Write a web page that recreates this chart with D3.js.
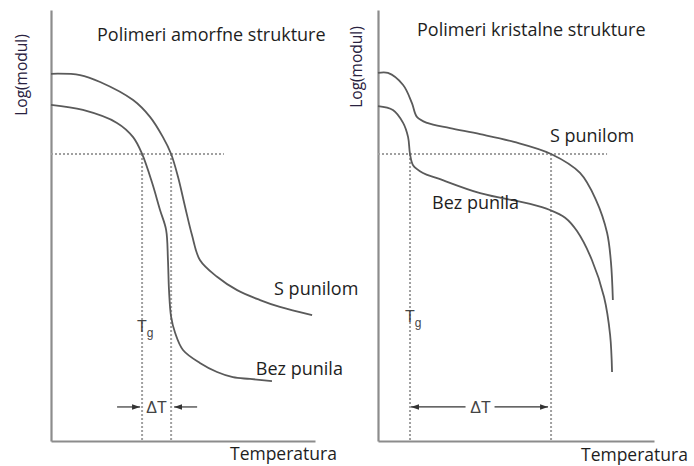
<!DOCTYPE html>
<html><head><meta charset="utf-8">
<script src="https://cdn.jsdelivr.net/npm/d3@7"></script>
<style>
body{margin:0;background:#fff;}
</style></head>
<body><svg id="c" width="694" height="466" font-family="'Open Sans','Noto Sans',sans-serif"></svg>
<script>
// Arbitrary units: temperature 0..100, log(modulus) 0..100
const panelTitles = ["Polimeri amorfne strukture", "Polimeri kristalne strukture"];
const yLabel = "Log(modul)";
const xLabel = "Temperatura";
const seriesNames = ["S punilom", "Bez punila"];

// Amorphous polymers
const amorfSPunilom = [[0,85.2],[11,84.9],[18.6,83.3],[31.1,79.1],[37.5,75.2],[42.4,70.5],[45.5,66.6],[48.1,61.3],[50.8,54.3],[53.4,47.8],[56.4,42.0],[62.9,38.1],[70.5,35.0],[79.2,32.7],[86.7,31.1],[98.9,29.2]];
const amorfBezPunila = [[0,78.0],[12.1,76.8],[25.0,73.8],[31.1,70.5],[34.5,66.6],[38.3,59.9],[41.3,53.6],[43.6,49.0],[44.3,42.0],[44.7,35.0],[45.5,28.8],[47.0,25.1],[50.0,21.1],[56.4,18.1],[62.9,16.0],[68.9,14.8],[75.4,14.4],[83.7,13.9]];
// Crystalline polymers
const kristSPunilom = [[0,85.4],[3.6,85.4],[9.1,82.6],[12.3,78.4],[14.1,75.2],[17.8,73.8],[26.1,72.6],[37.0,71.2],[49.3,69.4],[62.7,66.6],[73.2,62.2],[79.0,55.9],[83.0,48.3],[84.4,41.5],[85.1,32.7]];
const kristBezPunila = [[0,77.7],[5.4,76.8],[9.1,73.8],[10.9,70.5],[11.6,66.6],[12.7,64.0],[16.3,62.2],[21.4,61.0],[37.0,57.5],[55.1,55.0],[62.3,53.6],[67.8,51.8],[72.1,48.7],[77.5,42.0],[81.9,33.4],[84.1,24.6],[84.8,16.0]];

// reference lines: modulus level, end of horizontal line, the two temperatures, ΔT arrow height
const amorfRef = {level:66.6, hEnd:65.5, t1:34.5, t2:45.5, arrowY:7.9};
const kristRef = {level:66.6, hEnd:83.0, t1:11.6, t2:62.7, arrowY:7.9};

const svg = d3.select("#c");
const defs = svg.append("defs");
defs.append("marker").attr("id","ah").attr("viewBox","0 0 10 10").attr("refX",10).attr("refY",5)
  .attr("markerWidth",8).attr("markerHeight",8).attr("markerUnits","userSpaceOnUse").attr("orient","auto")
  .append("path").attr("d","M0,1.5L10,5L0,8.5Z").attr("fill","#333");

const panels = [
  {x0:51, x1:315, s:amorfSPunilom, b:amorfBezPunila, ref:amorfRef, title:panelTitles[0], titleX:97, titleY:41,
   yLabX:27, yLabC:75, sLab:[84.5,33.9], bLab:[77.6,15.4], tempX:230, tempY:460, tg:[32.6,25.2], dT:"narrow"},
  {x0:378, x1:654, s:kristSPunilom, b:kristBezPunila, ref:kristRef, title:panelTitles[1], titleX:417, titleY:36,
   yLabX:362, yLabC:67, sLab:[62.3,69.3], bLab:[19.6,53.8], tempX:581, tempY:461, tg:[9.8,27.6], dT:"wide"}
];

const sans = "'Liberation Sans',Arial,sans-serif";

panels.forEach(p => {
  const x = d3.scaleLinear().domain([0,100]).range([p.x0, p.x1]);
  const y = d3.scaleLinear().domain([0,100]).range([441, 10]);
  const g = svg.append("g");

  // axes (domain lines only)
  const ax = g.append("g").attr("transform",`translate(0,${y(0)})`)
    .call(d3.axisBottom(x).ticks(0).tickSize(0).tickSizeOuter(0));
  const ay = g.append("g").attr("transform",`translate(${x(0)},0)`)
    .call(d3.axisLeft(y).ticks(0).tickSize(0).tickSizeOuter(0));
  [ax, ay].forEach(a => { a.select(".domain").attr("stroke","#8c8c8c").attr("stroke-width",2.2); a.selectAll("text").remove(); });

  const r = p.ref;
  const dot = {stroke:"#a0a0a0", "stroke-width":2, "stroke-dasharray":"2,2"};
  const l1 = g.append("line").attr("x1",x(0)).attr("x2",x(r.hEnd)).attr("y1",y(r.level)).attr("y2",y(r.level));
  const l2 = g.append("line").attr("x1",x(r.t1)).attr("x2",x(r.t1)).attr("y1",y(r.level)).attr("y2",y(0));
  const l3 = g.append("line").attr("x1",x(r.t2)).attr("x2",x(r.t2)).attr("y1",y(r.level)).attr("y2",y(0));
  [l1,l2,l3].forEach(l => Object.entries(dot).forEach(([k,v]) => l.attr(k,v)));

  const line = d3.line().x(d=>x(d[0])).y(d=>y(d[1])).curve(d3.curveCatmullRom.alpha(0.5));
  [p.s, p.b].forEach(d => g.append("path").attr("d", line(d)).attr("fill","none")
    .attr("stroke","#5a5a5a").attr("stroke-width",1.8));

  // titles & labels
  g.append("text").attr("x",p.titleX).attr("y",p.titleY).attr("font-size",18).attr("fill","#1e1e1e").text(p.title);
  g.append("text").attr("transform",`translate(${p.yLabX},${p.yLabC}) rotate(-90)`).attr("text-anchor","middle")
    .attr("font-size",15.5).attr("fill","#2a2240").text(yLabel);
  g.append("text").attr("x",x(p.sLab[0])).attr("y",y(p.sLab[1])).attr("font-size",18).attr("fill","#1e1e1e").text(seriesNames[0]);
  g.append("text").attr("x",x(p.bLab[0])).attr("y",y(p.bLab[1])).attr("font-size",18).attr("fill","#1e1e1e").text(seriesNames[1]);
  g.append("text").attr("x",p.tempX).attr("y",p.tempY).attr("font-size",17.5).attr("fill","#1e1e1e").text(xLabel);

  // Tg label
  const tg = g.append("text").attr("x",x(p.tg[0])).attr("y",y(p.tg[1])).style("font-family",sans)
    .attr("font-size",16).attr("fill","#444");
  tg.append("tspan").text("T");
  tg.append("tspan").attr("dy",5).attr("font-size",12).text("g");

  // Delta T
  const ay2 = y(r.arrowY);
  const mid = (x(r.t1)+x(r.t2))/2;
  g.append("text").attr("x",mid).attr("y",ay2+6).attr("text-anchor","middle")
    .style("font-family",sans).attr("font-size",16).attr("fill","#444").text("\u0394T");
  const arrow = (xa, xb) => g.append("line").attr("x1",xa).attr("x2",xb).attr("y1",ay2).attr("y2",ay2)
    .attr("stroke","#333").attr("stroke-width",1.2).attr("marker-end","url(#ah)");
  if (p.dT === "narrow") {
    arrow(x(r.t1)-25, x(r.t1)-2);
    arrow(x(r.t2)+26, x(r.t2)+3);
  } else {
    arrow(mid-15, x(r.t1)+1);
    arrow(mid+14, x(r.t2)-3);
  }
});
</script></body></html>
